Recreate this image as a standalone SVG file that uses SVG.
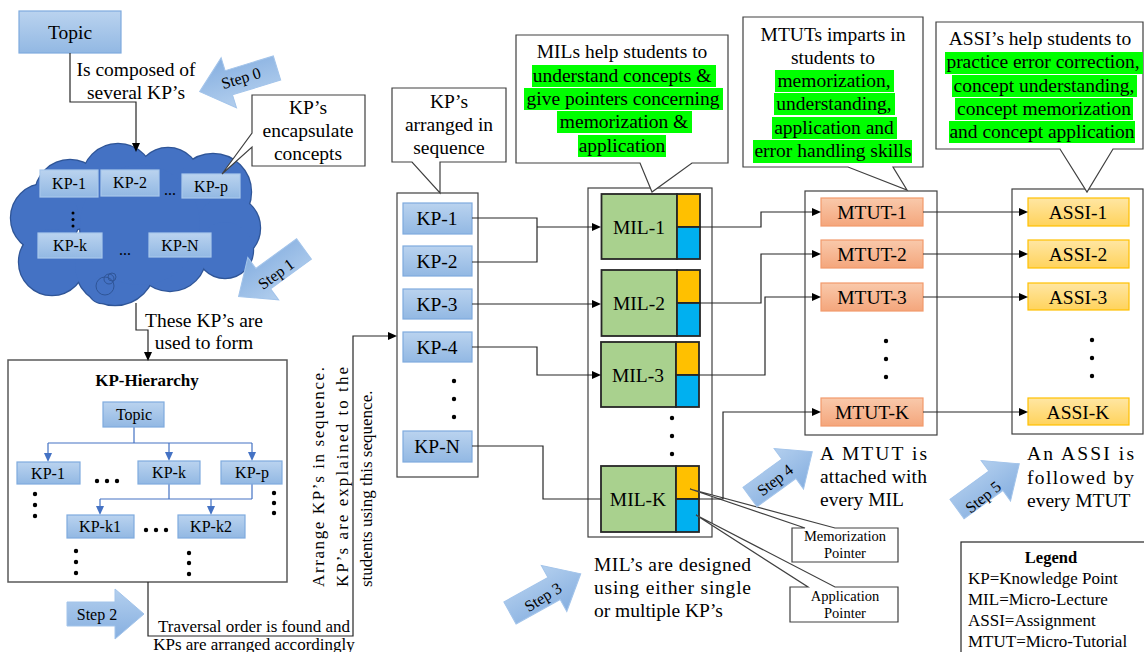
<svg xmlns="http://www.w3.org/2000/svg" width="1144" height="652" viewBox="0 0 1144 652">
<defs>
  <linearGradient id="gKP" x1="0" y1="0" x2="0" y2="1"><stop offset="0" stop-color="#bad3ef"/><stop offset="1" stop-color="#92b8e3"/></linearGradient>
  <linearGradient id="gMT" x1="0" y1="0" x2="0" y2="1"><stop offset="0" stop-color="#f9c9ab"/><stop offset="1" stop-color="#f4a67c"/></linearGradient>
  <linearGradient id="gAS" x1="0" y1="0" x2="0" y2="1"><stop offset="0" stop-color="#ffe6a3"/><stop offset="1" stop-color="#ffd35c"/></linearGradient>
  <linearGradient id="gStep" x1="0" y1="0" x2="0" y2="1"><stop offset="0" stop-color="#b3cfee"/><stop offset="1" stop-color="#86afe0"/></linearGradient>
  <path id="stepArrow" d="M0,-12 H48 V-25 L77,0 L48,25 V12 H0 Z"/>
</defs>
<style>
  text { font-family: "Liberation Serif", "Times New Roman", serif; fill: #000; }
  .f195 { font-size: 19.5px; }
  .f16 { font-size: 16px; }
  .f17 { font-size: 17px; }
  .f14 { font-size: 14.5px; }
  .c { text-anchor: middle; }
  .kp { fill: url(#gKP); stroke: #7fabde; stroke-width: 1.2; }
  .kpc { fill: url(#gKP); stroke: #a9c8ec; stroke-width: 1.2; }
  .mt { fill: url(#gMT); stroke: #f29a6c; stroke-width: 1.2; }
  .as { fill: url(#gAS); stroke: #ffc000; stroke-width: 1.2; }
  .box { fill: #fff; stroke: #404040; stroke-width: 1.2; }
  .conn { fill: none; stroke: #262626; stroke-width: 1.2; }
  .hc { fill: none; stroke: #4472c4; stroke-width: 1.2; }
  .ah polygon { fill: #000; }
  .ahb polygon { fill: #4472c4; }
  .hl { fill: #00ff00; }
  .mil { fill: #a9d18e; stroke: #262626; stroke-width: 1.8; }
  .yl { fill: #ffc000; stroke: #262626; stroke-width: 1.8; }
  .bl { fill: #00b0f0; stroke: #262626; stroke-width: 1.8; }
  .step { fill: url(#gStep); stroke: #a3c4ea; stroke-width: 1; }
  .cl1 circle { fill: #4472c4; stroke: #2f5597; stroke-width: 2.4; }
  .cl2 circle { fill: #4472c4; stroke: none; }
</style>

<!-- Topic -->
<g id="topic">
  <rect class="kp" x="19" y="11" width="102" height="42"/>
  <text class="f195 c" x="70" y="39">Topic</text>
</g>

<!-- Cloud of KPs -->
<g id="kp-cloud">
  <g class="cl1">
    <circle cx="70" cy="195" r="35"/><circle cx="118" cy="180" r="36"/><circle cx="168" cy="180" r="32"/>
    <circle cx="213" cy="192" r="38"/><circle cx="228" cy="228" r="32"/><circle cx="45" cy="218" r="34"/>
    <circle cx="52" cy="262" r="33"/><circle cx="115" cy="265" r="40"/><circle cx="170" cy="255" r="36"/>
    <circle cx="225" cy="250" r="28"/><circle cx="102" cy="290" r="13"/><circle cx="140" cy="225" r="60"/>
  </g>
  <g class="cl2">
    <circle cx="70" cy="195" r="35"/><circle cx="118" cy="180" r="36"/><circle cx="168" cy="180" r="32"/>
    <circle cx="213" cy="192" r="38"/><circle cx="228" cy="228" r="32"/><circle cx="45" cy="218" r="34"/>
    <circle cx="52" cy="262" r="33"/><circle cx="115" cy="265" r="40"/><circle cx="170" cy="255" r="36"/>
    <circle cx="225" cy="250" r="28"/><circle cx="102" cy="290" r="13"/><circle cx="140" cy="225" r="60"/>
  </g>
  <circle cx="105" cy="286" r="9" fill="none" stroke="#2f5597" stroke-width="1"/>
  <circle cx="109" cy="279" r="5" fill="none" stroke="#2f5597" stroke-width="1"/>
  <circle cx="112" cy="277" r="4" fill="none" stroke="#2f5597" stroke-width="1"/>
  <rect class="kpc" x="40" y="170" width="58" height="27"/><text class="f16 c" x="69" y="189">KP-1</text>
  <rect class="kpc" x="101" y="170" width="58" height="26"/><text class="f16 c" x="130" y="188">KP-2</text>
  <text class="f16 c" x="170" y="195">...</text>
  <rect class="kpc" x="182" y="174" width="58" height="24"/><text class="f16 c" x="211" y="192">KP-p</text>
  <circle cx="73" cy="213" r="1.5"/><circle cx="73" cy="219.5" r="1.5"/><circle cx="73" cy="226" r="1.5"/>
  <rect class="kpc" x="38" y="233" width="64" height="25"/><text class="f16 c" x="70" y="251">KP-k</text>
  <text class="f16 c" x="125" y="255">...</text>
  <rect class="kpc" x="149" y="233" width="62" height="24"/><text class="f16 c" x="180" y="251">KP-N</text>
</g>

<!-- Callout: KP's encapsulate concepts -->
<g id="callout-encapsulate">
  <path class="box" d="M252,95 H365 V166 H252 V147 L222,174 L252,133 Z"/>
  <text class="f195 c" x="308" y="114">KP’s</text>
  <text class="f195 c" x="308" y="137">encapsulate</text>
  <text class="f195 c" x="308" y="160">concepts</text>
</g>

<!-- KP hierarchy -->
<g id="kp-hierarchy">
  <rect x="8" y="360" width="279" height="222" fill="#fff" stroke="#595959" stroke-width="1.5"/>
  <text class="c" x="147" y="386" font-size="17" font-weight="bold">KP-Hierarchy</text>
  <path class="hc" d="M134,427 V443 M48,443 H252 M48,443 V455 M169,443 V455 M252,443 V455"/>
  <path class="hc" d="M169,484 V499 M252,484 V499 M100,499 H252 M100,499 V509 M211,499 V509"/>
  <g class="ahb">
    <polygon points="44,453 48,462 52,453"/>
    <polygon points="165,452 169,461 173,452"/>
    <polygon points="248,452 252,461 256,452"/>
    <polygon points="96,506 100,515 104,506"/>
    <polygon points="207,506 211,515 215,506"/>
  </g>
  <rect class="kp" x="103" y="402" width="61" height="25"/><text class="f16 c" x="134" y="420">Topic</text>
  <rect class="kp" x="17" y="462" width="63" height="22"/><text class="f16 c" x="48" y="479">KP-1</text>
  <rect class="kp" x="138" y="461" width="62" height="23"/><text class="f16 c" x="169" y="478">KP-k</text>
  <rect class="kp" x="221" y="461" width="61" height="23"/><text class="f16 c" x="252" y="478">KP-p</text>
  <rect class="kp" x="67" y="515" width="67" height="23"/><text class="f16 c" x="100" y="532">KP-k1</text>
  <rect class="kp" x="178" y="515" width="67" height="23"/><text class="f16 c" x="211" y="532">KP-k2</text>
  <g fill="#000">
    <circle cx="97" cy="481" r="2.2"/><circle cx="107" cy="481" r="2.2"/><circle cx="117" cy="481" r="2.2"/>
    <circle cx="146" cy="530" r="2.2"/><circle cx="156" cy="530" r="2.2"/><circle cx="166" cy="530" r="2.2"/>
    <circle cx="35" cy="494" r="2.2"/><circle cx="35" cy="505" r="2.2"/><circle cx="35" cy="516" r="2.2"/>
    <circle cx="274" cy="493" r="2.2"/><circle cx="274" cy="503" r="2.2"/><circle cx="274" cy="513" r="2.2"/>
    <circle cx="76" cy="551" r="2.2"/><circle cx="76" cy="562" r="2.2"/><circle cx="76" cy="573" r="2.2"/>
    <circle cx="189" cy="553" r="2.2"/><circle cx="189" cy="563" r="2.2"/><circle cx="189" cy="574" r="2.2"/>
  </g>
</g>

<!-- KP sequence column -->
<g id="kp-sequence">
  <rect class="box" x="397" y="193" width="81" height="284"/>
  <rect class="kp" x="403" y="203" width="69" height="31"/><text class="f195 c" x="437" y="225">KP-1</text>
  <rect class="kp" x="403" y="246" width="69" height="30"/><text class="f195 c" x="437" y="268">KP-2</text>
  <rect class="kp" x="403" y="289" width="69" height="30"/><text class="f195 c" x="437" y="311">KP-3</text>
  <rect class="kp" x="403" y="332" width="69" height="30"/><text class="f195 c" x="437" y="354">KP-4</text>
  <circle cx="454" cy="381" r="2.2"/><circle cx="454" cy="399" r="2.2"/><circle cx="454" cy="417" r="2.2"/>
  <rect class="kp" x="403" y="431" width="69" height="31"/><text class="f195 c" x="437" y="453">KP-N</text>
</g>
<g id="callout-sequence">
  <path class="box" d="M392,88 H506 V162 H440 V193 L412,162 H392 Z"/>
  <text class="f195 c" x="449" y="108">KP’s</text>
  <text class="f195 c" x="449" y="131">arranged in</text>
  <text class="f195 c" x="449" y="154">sequence</text>
</g>

<!-- MIL column -->
<g id="mil-column">
  <rect class="box" x="588" y="188" width="124" height="349"/>
  <g id="mil-1"><rect class="mil" x="601.5" y="194" width="75.5" height="65"/><rect class="yl" x="677" y="194" width="23" height="33"/><rect class="bl" x="677" y="227" width="23" height="32"/><text class="f195 c" x="639" y="234">MIL-1</text></g>
  <g id="mil-2"><rect class="mil" x="601.5" y="270" width="75.5" height="66"/><rect class="yl" x="677" y="270" width="23" height="33"/><rect class="bl" x="677" y="303" width="23" height="33"/><text class="f195 c" x="639" y="310">MIL-2</text></g>
  <g id="mil-3"><rect class="mil" x="601" y="342" width="75" height="65"/><rect class="yl" x="676" y="342" width="23" height="33"/><rect class="bl" x="676" y="375" width="23" height="32"/><text class="f195 c" x="638" y="382">MIL-3</text></g>
  <circle cx="672" cy="418" r="2.2"/><circle cx="672" cy="436" r="2.2"/><circle cx="672" cy="454" r="2.2"/>
  <g id="mil-k"><rect class="mil" x="601" y="466" width="75" height="66"/><rect class="yl" x="676" y="466" width="23" height="33"/><rect class="bl" x="676" y="499" width="23" height="33"/><text class="f195 c" x="638" y="506">MIL-K</text></g>
</g>
<g id="callout-mil">
  <path class="box" d="M516,35 H728 V163 H692 L652,192 L640,163 H516 Z"/>
  <rect class="hl" x="532" y="65" width="184" height="22"/>
  <rect class="hl" x="524" y="88" width="199" height="22"/>
  <rect class="hl" x="557" y="111" width="135" height="22"/>
  <rect class="hl" x="578" y="135" width="88" height="22"/>
  <text class="f195 c" x="622" y="58">MILs help students to</text>
  <text class="f195 c" x="622" y="82">understand concepts &amp;</text>
  <text class="f195 c" x="623" y="105">give pointers concerning</text>
  <text class="f195 c" x="624" y="128">memorization &amp;</text>
  <text class="f195 c" x="622" y="152">application</text>
</g>

<!-- MTUT column -->
<g id="mtut-column">
  <rect class="box" x="805" y="191" width="132" height="244"/>
  <rect class="mt" x="821" y="198" width="102" height="28"/><text class="f195 c" x="872" y="219">MTUT-1</text>
  <rect class="mt" x="821" y="240" width="102" height="28"/><text class="f195 c" x="872" y="261">MTUT-2</text>
  <rect class="mt" x="821" y="283" width="102" height="28"/><text class="f195 c" x="872" y="304">MTUT-3</text>
  <circle cx="886" cy="341" r="2.2"/><circle cx="886" cy="359" r="2.2"/><circle cx="886" cy="377" r="2.2"/>
  <rect class="mt" x="821" y="398" width="102" height="28"/><text class="f195 c" x="872" y="419">MTUT-K</text>
</g>
<g id="callout-mtut">
  <path class="box" d="M743,17 H923 V167 H893 L907,190 L848,167 H743 Z"/>
  <rect class="hl" x="775" y="70" width="119" height="22"/>
  <rect class="hl" x="774" y="93" width="121" height="22"/>
  <rect class="hl" x="772" y="117" width="125" height="22"/>
  <rect class="hl" x="753" y="140" width="159" height="23"/>
  <text class="f195 c" x="833" y="41">MTUTs imparts in</text>
  <text class="f195 c" x="833" y="64">students to</text>
  <text class="f195 c" x="834" y="87">memorization,</text>
  <text class="f195 c" x="834" y="110">understanding,</text>
  <text class="f195 c" x="834" y="134">application and</text>
  <text class="f195 c" x="833" y="157">error handling skills</text>
</g>

<!-- ASSI column -->
<g id="assi-column">
  <rect class="box" x="1012" y="189" width="131" height="245"/>
  <rect class="as" x="1028" y="198" width="101" height="28"/><text class="f195 c" x="1078" y="219">ASSI-1</text>
  <rect class="as" x="1028" y="240" width="101" height="28"/><text class="f195 c" x="1078" y="261">ASSI-2</text>
  <rect class="as" x="1028" y="283" width="101" height="27"/><text class="f195 c" x="1078" y="304">ASSI-3</text>
  <circle cx="1092" cy="340" r="2.2"/><circle cx="1092" cy="358" r="2.2"/><circle cx="1092" cy="376" r="2.2"/>
  <rect class="as" x="1028" y="398" width="101" height="27"/><text class="f195 c" x="1078" y="419">ASSI-K</text>
</g>
<g id="callout-assi">
  <path class="box" d="M936,22 H1143 V149 H1113 L1087,192 L1060,149 H936 Z"/>
  <rect class="hl" x="945" y="52" width="198" height="22"/>
  <rect class="hl" x="952" y="75" width="185" height="22"/>
  <rect class="hl" x="955" y="98" width="178" height="22"/>
  <rect class="hl" x="949" y="121" width="186" height="22"/>
  <text class="f195 c" x="1040" y="45">ASSI’s help students to</text>
  <text class="f195 c" x="1043" y="68">practice error correction,</text>
  <text class="f195 c" x="1044" y="92">concept understanding,</text>
  <text class="f195 c" x="1044" y="115">concept memorization</text>
  <text class="f195 c" x="1042" y="138">and concept application</text>
</g>

<!-- Pointer callouts -->
<g id="memorization-pointer">
  <path class="box" d="M792,528 H805 L690,489 L835,528 H898 V562 H792 Z"/>
  <text class="f14 c" x="845" y="541">Memorization</text>
  <text class="f14 c" x="845" y="558">Pointer</text>
</g>
<g id="application-pointer">
  <path class="box" d="M790,587 H808 L696,515 L835,587 H898 V622 H790 Z"/>
  <text class="f14 c" x="845" y="601">Application</text>
  <text class="f14 c" x="845" y="618">Pointer</text>
</g>

<!-- Connectors (drawn above the container boxes) -->
<g id="connectors">
  <path class="conn" d="M70,53 V102 H136 V145"/>
  <path class="conn" d="M136,303 V330 H148 V354"/>
  <path class="conn" d="M148,582 V636 H353 V336 H390"/>
  <path class="conn" d="M472,218 H537 V262 H472"/>
  <path class="conn" d="M537,227 H594"/>
  <path class="conn" d="M472,304 H594"/>
  <path class="conn" d="M472,347 H537 V375 H594"/>
  <path class="conn" d="M472,446 H543 V499 H601"/>
  <path class="conn" d="M700,227 H761 V212 H814"/>
  <path class="conn" d="M700,303 H761 V254 H814"/>
  <path class="conn" d="M700,375 H765 V297 H814"/>
  <path class="conn" d="M700,499 H723 V412 H814"/>
  <path class="conn" d="M923,212 H1021"/>
  <path class="conn" d="M923,254 H1021"/>
  <path class="conn" d="M923,297 H1021"/>
  <path class="conn" d="M923,412 H1021"/>
  <g class="ah">
    <polygon points="132,143 136,152 140,143"/>
    <polygon points="144,352 148,361 152,352"/>
    <polygon points="388,332 397,336 388,340"/>
    <polygon points="592,223 601,227 592,231"/>
    <polygon points="592,300 601,304 592,308"/>
    <polygon points="592,371 601,375 592,379"/>
    <polygon points="812,208 821,212 812,216"/>
    <polygon points="812,250 821,254 812,258"/>
    <polygon points="812,293 821,297 812,301"/>
    <polygon points="812,408 821,412 812,416"/>
    <polygon points="1019,208 1028,212 1019,216"/>
    <polygon points="1019,250 1028,254 1019,258"/>
    <polygon points="1019,293 1028,297 1019,301"/>
    <polygon points="1019,408 1028,412 1019,416"/>
  </g>
</g>

<!-- Connector texts -->
<g id="connector-labels">
  <text class="f195 c" x="136" y="76">Is composed of</text>
  <text class="f195 c" x="136" y="99">several KP’s</text>
  <text class="f195 c" x="204" y="327">These KP’s are</text>
  <text class="f195 c" x="204" y="349">used to form</text>
  <text class="f17 c" x="254" y="632">Traversal order is found and</text>
  <text class="f17 c" x="254" y="650">KPs are arranged accordingly</text>
  <text class="f17" transform="translate(324,587) rotate(-90)" textLength="220" lengthAdjust="spacing">Arrange KP’s in sequence.</text>
  <text class="f17" transform="translate(348,587) rotate(-90)" textLength="220" lengthAdjust="spacing">KP’s are explained to the</text>
  <text class="f17" transform="translate(372,587) rotate(-90)">students using this sequence.</text>
</g>

<!-- Explanatory texts -->
<g id="mil-note">
  <text class="f195" x="594" y="571" textLength="157" lengthAdjust="spacing">MIL’s are designed</text>
  <text class="f195" x="594" y="594" textLength="157" lengthAdjust="spacing">using either single</text>
  <text class="f195" x="594" y="617">or multiple KP’s</text>
</g>
<g id="mtut-note">
  <text class="f195" x="820" y="460" textLength="107" lengthAdjust="spacing">A MTUT is</text>
  <text class="f195" x="820" y="483" textLength="107" lengthAdjust="spacing">attached with</text>
  <text class="f195" x="820" y="506">every MIL</text>
</g>
<g id="assi-note">
  <text class="f195" x="1027" y="460" textLength="107" lengthAdjust="spacing">An ASSI is</text>
  <text class="f195" x="1027" y="484" textLength="107" lengthAdjust="spacing">followed by</text>
  <text class="f195" x="1027" y="507">every MTUT</text>
</g>

<!-- Step arrows -->
<g id="step0">
  <use href="#stepArrow" class="step" transform="translate(277,68) rotate(163) scale(1.05)"/>
  <text class="f16 c" transform="translate(241,78) rotate(-17)" dy="5.5">Step 0</text>
</g>
<g id="step1">
  <use href="#stepArrow" class="step" transform="translate(304,249) rotate(144) scale(1.05)"/>
  <text class="f16 c" transform="translate(276,274) rotate(-36)" dy="5.5">Step 1</text>
</g>
<g id="step2">
  <use href="#stepArrow" class="step" transform="translate(67,614)"/>
  <text class="f16 c" x="97" y="620">Step 2</text>
</g>
<g id="step3">
  <use href="#stepArrow" class="step" transform="translate(510,613) rotate(-29) scale(1.05)"/>
  <text class="f16 c" transform="translate(543,597) rotate(-32)" dy="5.5">Step 3</text>
</g>
<g id="step4">
  <use href="#stepArrow" class="step" transform="translate(750,497) rotate(-36)"/>
  <text class="f16 c" transform="translate(775,480) rotate(-38)" dy="5.5">Step 4</text>
</g>
<g id="step5">
  <use href="#stepArrow" class="step" transform="translate(957,509) rotate(-36)"/>
  <text class="f16 c" transform="translate(983,497) rotate(-39)" dy="5.5">Step 5</text>
</g>

<!-- Legend -->
<g id="legend">
  <rect x="961" y="542" width="200" height="130" fill="#fff" stroke="#262626" stroke-width="1.2"/>
  <text class="c" x="1051" y="563" font-size="16.5" font-weight="bold">Legend</text>
  <text class="f17" x="968" y="584">KP=Knowledge Point</text>
  <text class="f17" x="968" y="605">MIL=Micro-Lecture</text>
  <text class="f17" x="968" y="626">ASSI=Assignment</text>
  <text class="f17" x="968" y="647">MTUT=Micro-Tutorial</text>
</g>
</svg>
